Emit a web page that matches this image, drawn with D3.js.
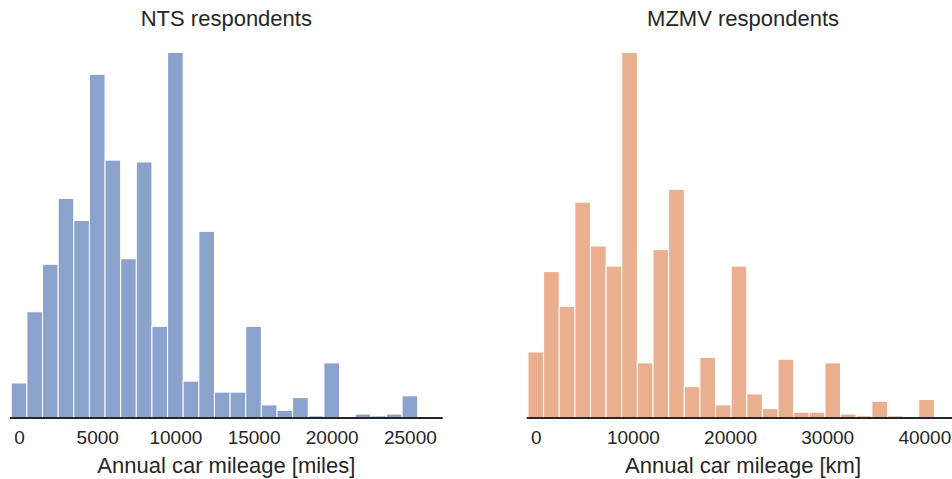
<!DOCTYPE html>
<html>
<head>
<meta charset="utf-8">
<script src="https://cdn.jsdelivr.net/npm/d3@7"></script>
<style>
  body { margin: 0; background: #fff; }
  svg { display: block; font-family: "Liberation Sans", Arial, sans-serif; }
</style>
</head>
<body>
<div id="chart"></div>
<script>
// NTS: 1000-mile bins centred on 0, 1000, ... 26000 miles
var ntsBinWidth = 1000;
var ntsCounts = [19, 58, 84, 120, 108, 188, 141, 87, 140, 50, 200, 20, 102, 14, 14,
                 50, 7, 4, 11, 1, 30, 0, 2, 1, 2, 12, 0];
var ntsTicks = [0, 5000, 10000, 15000, 20000, 25000];

// MZMV: the same bins expressed in km (1000 miles = 1609.344 km)
var mzmvBinWidth = 1609.344;
var mzmvCounts = [36, 80, 61, 118, 94, 83, 200, 30, 92, 125, 17, 33, 7, 83, 13,
                  5, 32, 3, 3, 30, 2, 1, 9, 1, 0, 10, 0];
var mzmvTicks = [0, 10000, 20000, 30000, 40000];

var titles = ["NTS respondents", "MZMV respondents"];
var xLabels = ["Annual car mileage [miles]", "Annual car mileage [km]"];
var colors = ["#8ba3cc", "#e9af8f"];

var width = 952, height = 479;
var baseY = 417.7, topY = 34.1;
var panelW = 432.7;

var svg = d3.select("#chart")
  .append("svg")
  .attr("width", width)
  .attr("height", height);

// one panel per survey
function drawPanel(left, counts, binWidth, ticks, xmin, xmax, title, label, color) {
  var g = svg.append("g");

  var x = d3.scaleLinear()
    .domain([xmin, xmax])
    .range([left, left + panelW]);

  var y = d3.scaleLinear()
    .domain([0, 210])
    .range([baseY, topY]);

  g.selectAll("rect")
    .data(counts)
    .enter().append("rect")
      .attr("x", function(d, i) { return x((i - 0.5) * binWidth); })
      .attr("y", function(d) { return y(d); })
      .attr("width", function(d, i) { return x((i + 0.5) * binWidth) - x((i - 0.5) * binWidth); })
      .attr("height", function(d) { return y(0) - y(d); })
      .attr("fill", color)
      .attr("stroke", "#fff")
      .attr("stroke-width", 1);

  var axis = g.append("g")
    .attr("transform", "translate(0," + baseY + ")")
    .call(d3.axisBottom(x).tickValues(ticks).tickFormat(d3.format("d"))
      .tickSize(0).tickPadding(13));
  axis.select(".domain").remove();
  axis.selectAll("text")
    .attr("fill", "#262626")
    .style("font-size", "19px");

  g.append("line")
    .attr("x1", left).attr("x2", left + panelW)
    .attr("y1", baseY + 0.3).attr("y2", baseY + 0.3)
    .attr("stroke", "#262626")
    .attr("stroke-width", 2);

  g.append("text")
    .attr("x", left + panelW / 2)
    .attr("y", 26)
    .attr("text-anchor", "middle")
    .attr("fill", "#262626")
    .style("font-size", "22px")
    .text(title);

  g.append("text")
    .attr("x", left + panelW / 2)
    .attr("y", 473)
    .attr("text-anchor", "middle")
    .attr("fill", "#262626")
    .style("font-size", "22px")
    .text(label);
}

drawPanel(10, ntsCounts, ntsBinWidth, ntsTicks, -580, 27100,
  titles[0], xLabels[0], colors[0]);
drawPanel(526.7, mzmvCounts, mzmvBinWidth, mzmvTicks, -580 * 1.609344, 27100 * 1.609344,
  titles[1], xLabels[1], colors[1]);
</script>
</body>
</html>
